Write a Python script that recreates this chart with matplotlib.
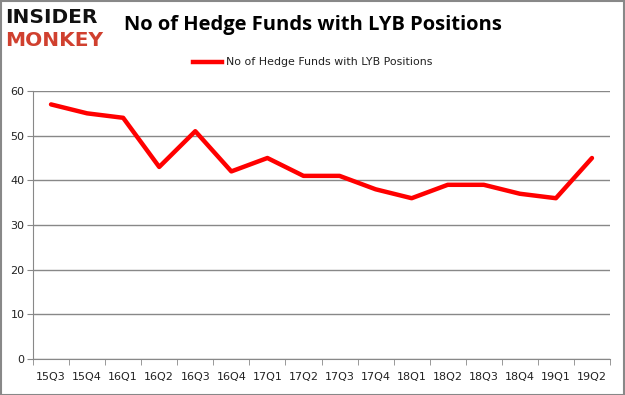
import matplotlib
matplotlib.use("Agg")
import matplotlib.pyplot as plt
from matplotlib.patches import Rectangle
from matplotlib.lines import Line2D

quarters = ["15Q3", "15Q4", "16Q1", "16Q2", "16Q3", "16Q4", "17Q1", "17Q2",
            "17Q3", "17Q4", "18Q1", "18Q2", "18Q3", "18Q4", "19Q1", "19Q2"]
funds = [57, 55, 54, 43, 51, 42, 45, 41, 41, 38, 36, 39, 39, 37, 36, 45]
yticks = [0, 10, 20, 30, 40, 50, 60]
title = "No of Hedge Funds with LYB Positions"
series_name = "No of Hedge Funds with LYB Positions"

fig = plt.figure(figsize=(6.25, 3.95), dpi=100)
ax = fig.add_axes([0.0528, 0.0911, 0.9232, 0.6785])

x = list(range(len(quarters)))
ax.plot(x, funds, color="#ff0000", linewidth=3.2, solid_joinstyle="round", solid_capstyle="round")
ax.set_xlim(-0.5, len(quarters) - 0.5)
ax.set_ylim(0, 60)
ax.set_yticks(yticks)
ax.set_yticklabels([str(v) for v in yticks], fontsize=8, color="#222222")
ax.set_xticks(x)
ax.set_xticklabels(quarters, fontsize=8, color="#222222")
ax.set_xticks([i - 0.5 for i in range(len(quarters) + 1)], minor=True)
ax.tick_params(axis="x", which="major", length=0, pad=9)
ax.tick_params(axis="x", which="minor", length=4, color="#888888")
ax.tick_params(axis="y", length=4, color="#888888", pad=2)
ax.grid(axis="y", color="#888888", linewidth=1)
ax.set_axisbelow(True)
for s in ["top", "right"]:
    ax.spines[s].set_visible(False)
ax.spines["left"].set_color("#888888")
ax.spines["bottom"].set_color("#888888")

fig.text(0.5, 0.936, title, ha="center", va="center", fontsize=14.5, fontweight="bold",
         family="Open Sans")
fig.text(0.008, 0.955, "INSIDER", ha="left", va="center", fontsize=14.5, fontweight="heavy",
         color="#111111", family="DejaVu Sans")
fig.text(0.008, 0.898, "MONKEY", ha="left", va="center", fontsize=14.5, fontweight="heavy",
         color="#d0402f", family="DejaVu Sans")

fig.add_artist(Line2D([193 / 625, 222 / 625], [1 - 62 / 395] * 2, color="#ff0000", linewidth=3.2))
fig.text(226 / 625, 1 - 62 / 395, series_name, ha="left", va="center", fontsize=7.9, color="#222222")

fig.add_artist(Rectangle((0.001, 0.001), 0.997, 0.997, transform=fig.transFigure,
                         fill=False, edgecolor="#888888", linewidth=1.5))

fig.savefig("out.png", dpi=100)
